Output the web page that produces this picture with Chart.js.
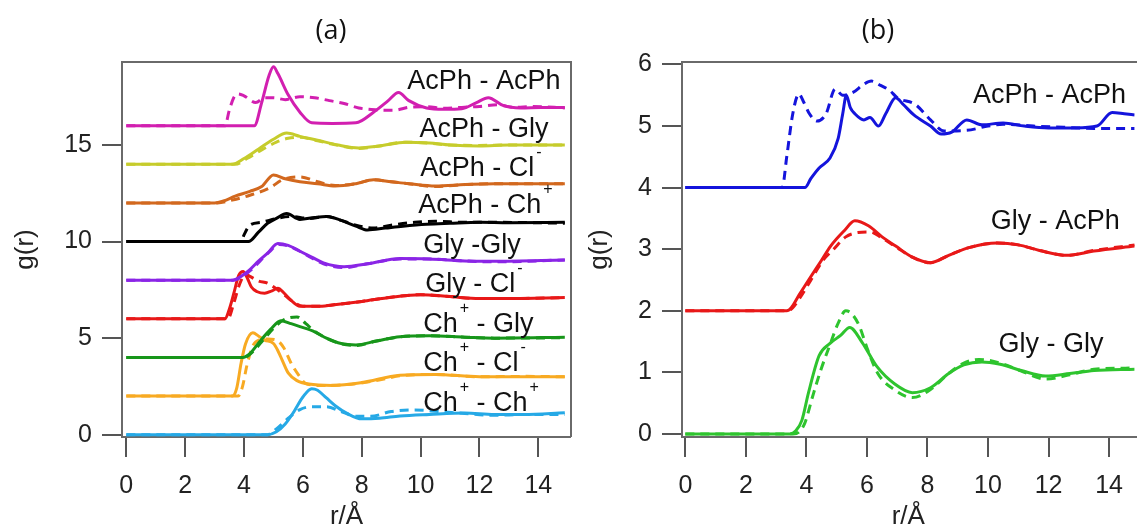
<!DOCTYPE html>
<html>
<head>
<meta charset="utf-8">
<script src="https://cdn.jsdelivr.net/npm/chart.js@4.4.1/dist/chart.umd.min.js"></script>
<style>
  body { margin: 0; background: #fff; width: 1137px; height: 532px; overflow: hidden; position: relative; }
  canvas { position: absolute; top: 0; }
  #chartA { left: 0; }
  #chartB { left: 560px; }
</style>
</head>
<body>
<canvas id="chartA" width="580" height="532"></canvas>
<canvas id="chartB" width="577" height="532"></canvas>
<script>
// axes
const xTicks = [0, 2, 4, 6, 8, 10, 12, 14];
const yTicksA = [0, 5, 10, 15];
const yTicksB = [0, 1, 2, 3, 4, 5, 6];

// panel (a) : g(r) curves, [r, g] pairs, solid = sim, dashed = other
const aAcPhAcPh  = [[0,16],[4.35,16],[4.6,17.2],[4.85,18.6],[5.0,19.05],[5.15,18.7],[5.5,17.6],[5.9,16.7],[6.3,16.15],[7.0,16.12],[7.8,16.15],[8.4,16.7],[8.9,17.3],[9.25,17.72],[9.6,17.3],[10.2,16.92],[10.8,16.85],[11.4,16.88],[11.9,17.2],[12.3,17.45],[12.8,17.05],[13.4,16.92],[14.1,16.95],[14.9,16.95]];
const aAcPhAcPhD = [[0,16],[3.35,16],[3.5,16.8],[3.65,17.45],[3.8,17.65],[4.0,17.55],[4.4,17.2],[4.7,17.45],[5.0,17.45],[5.4,17.35],[5.9,17.5],[6.4,17.45],[6.9,17.3],[7.4,17.15],[7.9,16.92],[8.5,16.82],[9.1,16.8],[9.6,16.95],[10.2,16.98],[10.8,16.9],[11.4,16.95],[12.0,17.0],[12.6,17.08],[13.2,16.95],[13.8,17.0],[14.9,16.92]];
const aAcPhGly   = [[0,14],[3.6,14],[4.0,14.3],[4.5,14.8],[5.0,15.3],[5.45,15.62],[5.9,15.45],[6.5,15.25],[7.2,15.0],[7.9,14.85],[8.6,14.95],[9.5,15.15],[10.3,15.1],[11.0,15.0],[12.0,14.95],[13.0,15.0],[14.9,15.0]];
const aAcPhGlyD  = [[0,14],[3.7,14],[4.1,14.3],[4.6,14.75],[5.1,15.15],[5.5,15.35],[5.9,15.4],[6.5,15.22],[7.2,14.98],[7.9,14.82],[8.6,14.95],[9.5,15.15],[10.3,15.1],[11.0,15.0],[12.0,14.98],[13.0,15.0],[14.9,15.0]];
const aAcPhCl    = [[0,12],[3.0,12],[3.3,12.1],[3.7,12.35],[4.2,12.6],[4.6,12.85],[5.0,13.45],[5.4,13.25],[5.9,13.1],[6.5,13.0],[7.1,12.88],[7.8,13.0],[8.4,13.2],[9.0,13.1],[9.6,13.0],[10.5,12.88],[11.5,12.95],[12.5,13.0],[14.9,13.0]];
const aAcPhClD   = [[0,12],[3.1,12],[3.6,12.15],[4.2,12.4],[4.9,12.8],[5.3,13.2],[5.9,13.35],[6.5,13.1],[7.1,12.9],[7.8,13.0],[8.4,13.2],[9.0,13.1],[9.6,13.0],[10.5,12.85],[11.5,12.95],[12.5,13.0],[14.9,13.0]];
const aAcPhCh    = [[0,10],[4.15,10],[4.5,10.5],[4.8,10.95],[5.1,11.2],[5.45,11.45],[5.9,11.15],[6.4,11.25],[6.8,11.3],[7.3,11.1],[7.8,10.8],[8.2,10.6],[8.8,10.7],[9.4,10.8],[10.2,10.9],[11.0,10.95],[12.0,11.0],[13.0,10.98],[14.9,11.0]];
const aAcPhChD   = [[0,10],[3.9,10],[4.0,10.35],[4.2,10.85],[4.6,11.0],[5.1,11.2],[5.6,11.3],[6.2,11.2],[6.8,11.3],[7.3,11.1],[7.8,10.85],[8.4,10.7],[9.0,10.85],[9.8,11.0],[10.5,11.05],[11.5,11.0],[12.5,11.0],[14.9,10.95]];
const aGlyGly    = [[0,8],[3.6,8],[3.9,8.2],[4.2,8.55],[4.5,9.0],[4.8,9.4],[5.15,9.9],[5.5,9.8],[5.9,9.5],[6.3,9.2],[6.7,8.9],[7.4,8.7],[8.2,8.85],[9.3,9.12],[10.3,9.1],[11.5,9.0],[12.5,8.98],[14.9,9.05]];
const aGlyGlyD   = [[0,8],[3.65,8],[3.95,8.2],[4.25,8.55],[4.55,9.0],[4.85,9.45],[5.2,9.85],[5.55,9.75],[5.9,9.5],[6.3,9.15],[6.7,8.85],[7.4,8.65],[8.2,8.85],[9.3,9.1],[10.3,9.1],[11.5,9.0],[12.5,8.95],[14.9,9.05]];
const aGlyCl     = [[0,6],[3.35,6],[3.5,6.5],[3.65,7.3],[3.82,8.25],[3.97,8.45],[4.1,8.15],[4.25,7.65],[4.45,7.4],[4.7,7.32],[4.95,7.45],[5.15,7.58],[5.35,7.35],[5.6,6.95],[5.9,6.65],[6.5,6.65],[7.0,6.72],[8.0,6.9],[9.0,7.12],[10.0,7.25],[11.0,7.15],[12.0,7.05],[13.0,7.05],[14.9,7.1]];
const aGlyClD    = [[0,6],[3.45,6],[3.65,6.8],[3.85,7.8],[4.05,8.3],[4.2,8.2],[4.5,7.95],[4.8,7.85],[5.1,7.55],[5.4,7.2],[5.7,6.85],[6.0,6.65],[6.5,6.65],[7.0,6.72],[8.0,6.9],[9.0,7.12],[10.0,7.25],[11.0,7.15],[12.0,7.05],[13.0,7.05],[14.9,7.1]];
const aChGly     = [[0,4],[3.95,4],[4.2,4.2],[4.55,4.85],[4.9,5.45],[5.25,5.9],[5.6,5.75],[5.9,5.6],[6.4,5.33],[6.8,5.0],[7.3,4.72],[7.8,4.65],[8.5,4.85],[9.3,5.07],[10.3,5.12],[11.5,5.05],[12.5,5.0],[14.9,5.05]];
const aChGlyD    = [[0,4],[4.0,4],[4.3,4.3],[4.65,4.9],[5.0,5.5],[5.35,5.95],[5.8,6.1],[6.1,5.75],[6.4,5.35],[6.8,5.0],[7.3,4.7],[7.8,4.62],[8.5,4.85],[9.3,5.07],[10.3,5.12],[11.5,5.05],[12.5,5.0],[14.9,5.02]];
const aChCl      = [[0,2],[3.6,2],[3.75,2.4],[3.9,3.7],[4.05,4.7],[4.3,5.28],[4.5,5.1],[4.7,4.9],[5.0,4.72],[5.15,4.35],[5.3,3.85],[5.5,3.2],[5.8,2.8],[6.2,2.62],[7.0,2.55],[8.0,2.7],[9.3,3.08],[10.5,3.12],[12.0,3.0],[13.5,3.0],[14.9,3.0]];
const aChClD     = [[0,2],[3.8,2],[3.95,2.5],[4.1,3.6],[4.3,4.6],[4.5,4.9],[4.8,4.95],[5.1,4.9],[5.35,4.5],[5.6,3.7],[5.85,3.1],[6.1,2.65],[6.6,2.55],[7.5,2.6],[8.5,2.8],[9.3,3.05],[10.5,3.12],[12.0,3.0],[13.5,3.02],[14.9,3.0]];
const aChCh      = [[0,0],[4.8,0],[5.1,0.15],[5.4,0.55],[5.7,1.2],[6.0,1.95],[6.3,2.38],[6.5,2.3],[6.8,1.9],[7.1,1.5],[7.5,1.1],[8.0,0.82],[8.6,0.85],[9.3,0.97],[10.3,1.05],[11.5,1.12],[12.5,1.05],[13.5,1.05],[14.9,1.14]];
const aChChD     = [[0,0],[4.8,0],[5.1,0.3],[5.5,0.85],[5.9,1.3],[6.3,1.45],[6.8,1.45],[7.3,1.2],[7.8,0.95],[8.3,0.95],[9.0,1.2],[9.8,1.28],[10.6,1.2],[11.5,1.1],[12.5,1.0],[13.5,1.05],[14.9,1.05]];

// panel (b)
const bAcPhAcPh  = [[0,4],[3.95,4],[4.15,4.15],[4.42,4.32],[4.78,4.48],[5.05,4.8],[5.2,5.2],[5.32,5.5],[5.45,5.3],[5.6,5.2],[5.9,5.1],[6.1,5.14],[6.38,5.0],[6.62,5.2],[6.95,5.46],[7.2,5.35],[7.55,5.18],[8.1,5.0],[8.45,4.87],[8.8,4.9],[9.3,5.1],[9.8,5.02],[10.5,5.05],[11.2,5.0],[12.0,4.97],[12.9,4.97],[13.6,5.0],[14.1,5.22],[14.5,5.2],[14.85,5.18]];
const bAcPhAcPhD = [[0,4],[3.2,4],[3.35,4.5],[3.55,5.2],[3.75,5.52],[3.9,5.4],[4.1,5.2],[4.35,5.08],[4.65,5.2],[4.95,5.6],[5.2,5.5],[5.55,5.55],[5.9,5.68],[6.15,5.73],[6.45,5.66],[6.75,5.58],[7.0,5.46],[7.6,5.35],[8.1,5.1],[8.55,4.92],[9.3,4.93],[10.0,5.0],[10.5,5.03],[11.5,5.0],[12.5,4.98],[13.5,4.96],[14.85,4.96]];
const bGlyAcPh   = [[0,2],[3.35,2],[3.5,2.05],[3.75,2.25],[4.1,2.52],[4.5,2.82],[4.8,3.05],[5.25,3.3],[5.6,3.46],[6.05,3.38],[6.5,3.2],[6.95,3.05],[7.5,2.87],[8.1,2.78],[8.7,2.9],[9.4,3.03],[10.3,3.1],[11.0,3.07],[11.7,2.98],[12.6,2.9],[13.5,2.97],[14.85,3.05]];
const bGlyAcPhD  = [[0,2],[3.4,2],[3.55,2.05],[3.8,2.22],[4.15,2.5],[4.55,2.82],[4.9,3.0],[5.3,3.2],[5.7,3.27],[6.1,3.28],[6.5,3.18],[6.95,3.04],[7.5,2.87],[8.1,2.78],[8.7,2.9],[9.4,3.03],[10.3,3.1],[11.0,3.07],[11.7,2.98],[12.6,2.9],[13.5,2.98],[14.85,3.07]];
const bGlyGly    = [[0,0],[3.45,0],[3.65,0.05],[3.85,0.22],[4.07,0.67],[4.42,1.27],[4.78,1.47],[5.13,1.6],[5.43,1.73],[5.85,1.48],[6.32,1.1],[6.92,0.81],[7.5,0.67],[8.1,0.75],[8.7,0.98],[9.2,1.12],[9.8,1.17],[10.4,1.13],[11.1,1.03],[11.9,0.94],[12.7,0.98],[13.5,1.03],[14.85,1.05]];
const bGlyGlyD   = [[0,0],[3.55,0],[3.75,0.03],[3.95,0.18],[4.2,0.6],[4.45,1.0],[4.78,1.45],[5.05,1.8],[5.3,2.0],[5.5,1.95],[5.75,1.75],[6.0,1.4],[6.35,0.99],[6.9,0.72],[7.5,0.59],[8.1,0.72],[8.7,0.98],[9.2,1.15],[9.7,1.21],[10.4,1.15],[11.1,1.02],[11.9,0.89],[12.7,0.96],[13.5,1.05],[14.85,1.07]];

// curve labels: text (^x = superscript), r, g of left/baseline
const labelsA = [
  ['AcPh - AcPh', 9.55, 17.9],
  ['AcPh - Gly', 9.96, 15.42],
  ['AcPh - Cl^-', 9.99, 13.4],
  ['AcPh - Ch^+', 9.92, 11.46],
  ['Gly -Gly', 10.09, 9.39],
  ['Gly - Cl^-', 10.16, 7.38],
  ['Ch^+ - Gly', 10.09, 5.3],
  ['Ch^+ - Cl^-', 10.09, 3.32],
  ['Ch^+ - Ch^+', 10.09, 1.25]
];
const labelsB = [
  ['AcPh - AcPh', 9.5, 5.37],
  ['Gly - AcPh', 10.09, 3.32],
  ['Gly - Gly', 10.35, 1.33]
];

const seriesA = [
  [aAcPhAcPh, aAcPhAcPhD, '#d21fb0'],
  [aAcPhGly, aAcPhGlyD, '#c6cc2c'],
  [aAcPhCl, aAcPhClD, '#d2681e'],
  [aAcPhCh, aAcPhChD, '#000000'],
  [aGlyGly, aGlyGlyD, '#8a25e6'],
  [aGlyCl, aGlyClD, '#e81818'],
  [aChGly, aChGlyD, '#17961a'],
  [aChCl, aChClD, '#f8aa22'],
  [aChCh, aChChD, '#26a9e6']
];
const seriesB = [
  [bAcPhAcPh, bAcPhAcPhD, '#1414dc'],
  [bGlyAcPh, bGlyAcPhD, '#e81818'],
  [bGlyGly, bGlyGlyD, '#2ec42e']
];

const FONT = "'Liberation Sans', Arial, sans-serif";

function makeDatasets(series) {
  const out = [];
  series.forEach(s => {
    out.push({ data: s[1], borderColor: s[2], borderWidth: 3, borderDash: [9, 6] });
    out.push({ data: s[0], borderColor: s[2], borderWidth: 3 });
  });
  return out;
}

// frame box, panel title and in-plot labels
const panelPlugin = {
  id: 'panel',
  beforeDatasetsDraw(chart, args, o) {
    const { ctx, chartArea: a } = chart;
    ctx.save();
    ctx.strokeStyle = '#6a6a6a';
    ctx.lineWidth = 2;
    ctx.beginPath();
    if (o.right) {
      ctx.moveTo(a.right, a.bottom); ctx.lineTo(a.right, a.top);
    } else {
      ctx.moveTo(chart.width + 2, a.top);
    }
    ctx.lineTo(a.left, a.top);
    ctx.lineTo(a.left, a.bottom);
    ctx.lineTo(o.right ? a.right : chart.width + 2, a.bottom);
    ctx.stroke();
    ctx.restore();
  },
  afterDraw(chart, args, o) {
    const { ctx } = chart;
    const xs = chart.scales.x, ys = chart.scales.y;
    ctx.save();
    ctx.fillStyle = '#111';
    ctx.textAlign = 'center';
    ctx.textBaseline = 'middle';
    ctx.font = "27px 'Open Sans', sans-serif";
    ctx.fillText(o.title, o.titleX, 31);
    ctx.textAlign = 'left';
    ctx.textBaseline = 'alphabetic';
    o.labels.forEach(l => {
      let x = xs.getPixelForValue(l[1]);
      const y = ys.getPixelForValue(l[2]);
      l[0].split(/(\^.)/).forEach(part => {
        if (!part) return;
        if (part[0] === '^') {
          ctx.font = '16px ' + FONT;
          ctx.fillText(part[1], x + 2, y - 19);
          x += ctx.measureText(part[1]).width + 2;
        } else {
          ctx.font = '27px ' + FONT;
          ctx.fillText(part, x, y);
          x += ctx.measureText(part).width;
        }
      });
    });
    ctx.restore();
  }
};

function makeChart(id, series, yTicks, xr, yr, pad, yTitlePad, panel) {
  return new Chart(document.getElementById(id), {
    type: 'line',
    data: { datasets: makeDatasets(series) },
    plugins: [panelPlugin],
    options: {
      responsive: false,
      animation: false,
      layout: { padding: pad },
      elements: { point: { radius: 0 }, line: { cubicInterpolationMode: 'monotone' } },
      plugins: { legend: { display: false }, tooltip: { enabled: false }, panel: panel },
      scales: {
        x: {
          type: 'linear', min: xr[0], max: xr[1],
          afterBuildTicks: s => { s.ticks = xTicks.map(v => ({ value: v })); },
          afterFit: s => { s.height = 95; },
          grid: { drawOnChartArea: false, tickLength: 20, color: '#555', lineWidth: 2 },
          border: { display: false },
          ticks: { padding: 14, color: '#222', font: { size: 25, family: FONT } },
          title: { display: true, text: 'r/Å', color: '#222', padding: { top: 0, bottom: 0 }, font: { size: 26, family: FONT } }
        },
        y: {
          type: 'linear', min: yr[0], max: yr[1],
          afterBuildTicks: s => { s.ticks = yTicks.map(v => ({ value: v })); },
          afterFit: s => { s.width = 122; },
          grid: { drawOnChartArea: false, tickLength: 20, color: '#555', lineWidth: 2 },
          border: { display: false },
          ticks: { padding: 10, color: '#222', font: { size: 25, family: FONT } },
          title: { display: true, text: 'g(r)', color: '#222', padding: { top: yTitlePad, bottom: 0 }, font: { size: 26, family: FONT } }
        }
      }
    }
  });
}

makeChart('chartA', seriesA, yTicksA, [-0.146, 15.11], [-0.12, 19.3],
  { top: 62, right: 9, left: 0, bottom: 0 }, 10,
  { title: '(a)', titleX: 331, right: true, labels: labelsA });
makeChart('chartB', seriesB, yTicksB, [-0.11, 14.84], [-0.05, 6.04],
  { top: 62, right: 0, left: 0, bottom: 0 }, 24,
  { title: '(b)', titleX: 318, right: false, labels: labelsB });
</script>
</body>
</html>
